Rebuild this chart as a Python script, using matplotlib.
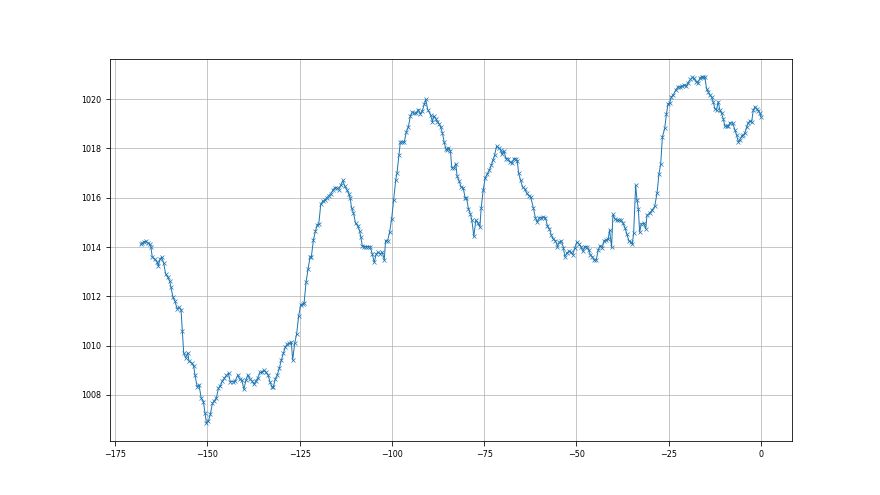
#!/usr/bin/env python3
"""Pressure trace over the last week, hours relative to now."""

import matplotlib

matplotlib.use('Agg')
from matplotlib import pyplot as plt  # noqa: E402

# hours before now
hours = [
    -168.00, -167.60, -167.20, -166.76, -166.22, -165.67, -165.31, -164.95, -164.22, -163.68,
    -163.32, -162.87, -162.41, -161.87, -161.33, -160.78, -160.24, -159.88, -159.33, -158.79,
    -158.25, -157.70, -157.16, -156.80, -156.43, -155.89, -155.35, -154.98, -154.26, -153.72,
    -153.35, -152.81, -152.27, -151.72, -151.09, -150.64, -150.27, -149.73, -149.19, -148.64,
    -148.10, -147.56, -147.01, -146.47, -145.93, -145.38, -144.84,
    -144.29, -143.84, -143.20, -142.48, -141.75, -141.30, -140.67, -140.12, -139.58, -139.04,
    -138.49, -137.95, -137.41, -136.86, -136.32, -135.78, -135.23, -134.69, -134.15, -133.60,
    -133.06, -132.51, -132.15, -131.61, -131.07, -130.52, -129.98, -129.43, -128.89, -128.35,
    -127.80, -127.26, -126.90, -126.36, -125.81, -125.27, -124.73, -124.18, -123.82, -123.28,
    -122.73, -122.19, -121.83, -121.28, -120.74, -120.20, -119.83, -119.29, -118.75, -118.20,
    -117.66,
    -117.12, -116.58, -116.03, -115.49, -114.95, -114.40, -113.86, -113.32, -112.77, -112.23,
    -111.69, -111.32, -110.96, -110.42, -109.87, -109.33, -108.79, -108.42, -108.06, -107.52,
    -106.97, -106.43, -105.89, -105.34, -104.80, -104.26, -103.71, -103.17, -102.63, -102.08,
    -101.72, -101.18, -100.63, -100.09, -99.55, -99.00, -98.64, -98.10, -97.74, -97.19,
    -96.65, -96.11, -95.56, -95.02, -94.48, -93.93, -93.39, -92.85, -92.30, -91.76,
    -91.21, -90.85, -90.31,
    -89.50, -89.04, -88.68, -88.14, -87.69, -87.23, -86.78, -86.33, -85.87, -85.42,
    -84.97, -84.70, -84.15, -83.79, -83.25, -82.70, -82.34, -81.80, -81.25, -80.71,
    -80.17, -79.81, -79.26, -78.72, -78.36, -77.81, -77.27, -76.73, -76.18, -75.82,
    -75.28, -74.73, -74.19, -73.65, -73.10, -72.56, -72.20, -71.65, -71.11, -70.57,
    -70.20, -69.66, -69.12, -68.57, -68.03, -67.49, -66.94, -66.40, -66.04, -65.68,
    -65.13, -64.59, -64.05, -63.50, -62.96, -62.42,
    -61.68, -61.14, -60.60, -60.05, -59.51, -58.97, -58.42, -57.88, -57.34, -56.79,
    -56.25, -55.70, -55.16, -54.62, -54.07, -53.53, -53.17, -52.63, -52.08, -51.54,
    -51.00, -50.45, -49.91, -49.37, -48.82, -48.28, -47.73, -47.19, -46.65, -46.28,
    -45.74, -45.20, -44.65, -44.11, -43.57, -43.02, -42.48, -41.94, -41.39, -41.03,
    -40.49, -40.12, -39.58, -39.04, -38.49, -37.95, -37.41, -36.86, -36.32, -35.78,
    -35.23, -34.87, -34.51, -33.97, -33.60, -33.24,
    -32.88, -32.43, -31.79, -31.25, -30.89, -30.16, -29.44, -28.80, -28.17, -27.63,
    -27.17, -26.72, -26.09, -25.63, -25.18, -24.73, -24.27, -23.82, -23.10, -22.46,
    -22.01, -21.29, -20.83, -20.20, -19.75, -19.11, -18.57, -18.21, -17.48, -17.03,
    -16.58, -16.12, -15.67, -15.22, -14.76, -14.31, -13.86, -13.40, -12.95, -12.50,
    -12.05, -11.59, -11.14, -10.69, -10.23, -9.78, -9.33, -8.88, -8.42, -7.70,
    -7.06, -6.61, -6.16, -5.71, -5.25, -4.80, -4.35, -3.89, -3.44, -2.99,
    -2.54, -2.08, -1.63, -1.18, -0.72, -0.27, 0.00,
]

# pressure [hPa]
pressure = [
    1014.11, 1014.16, 1014.22, 1014.24, 1014.16, 1014.11, 1014.00, 1013.59, 1013.50, 1013.40,
    1013.23, 1013.50, 1013.59, 1013.36, 1012.91, 1012.78, 1012.62, 1012.37, 1011.96, 1011.80,
    1011.50, 1011.55, 1011.46, 1010.58, 1009.70, 1009.50, 1009.70, 1009.36, 1009.30, 1009.16,
    1008.79, 1008.34, 1008.41, 1007.89, 1007.73, 1007.26, 1006.85, 1006.94, 1007.22, 1007.66,
    1007.76, 1007.89, 1008.27, 1008.38, 1008.57, 1008.68, 1008.79,
    1008.88, 1008.54, 1008.54, 1008.57, 1008.81, 1008.64, 1008.59, 1008.23, 1008.59, 1008.81,
    1008.64, 1008.57, 1008.43, 1008.57, 1008.70, 1008.91, 1008.91, 1009.00, 1008.91, 1008.81,
    1008.54, 1008.32, 1008.32, 1008.64, 1008.81, 1009.08, 1009.41, 1009.68, 1009.95, 1010.06,
    1010.09, 1010.13, 1009.41, 1010.09, 1010.49, 1011.21, 1011.66, 1011.69, 1011.71, 1012.57,
    1013.11, 1013.59, 1013.61, 1014.29, 1014.64, 1014.91, 1014.94, 1015.73, 1015.86, 1015.89,
    1016.00,
    1016.09, 1016.16, 1016.30, 1016.41, 1016.41, 1016.33, 1016.50, 1016.70, 1016.46, 1016.33,
    1016.16, 1016.00, 1015.59, 1015.38, 1014.97, 1014.87, 1014.67, 1014.40, 1014.06, 1014.02,
    1014.02, 1014.02, 1014.02, 1013.72, 1013.38, 1013.72, 1013.79, 1013.72, 1013.79, 1013.48,
    1014.26, 1014.26, 1014.60, 1015.14, 1015.89, 1016.70, 1017.00, 1017.72, 1018.26, 1018.26,
    1018.26, 1018.67, 1018.87, 1019.31, 1019.48, 1019.42, 1019.44, 1019.58, 1019.39, 1019.53,
    1019.80, 1019.99, 1019.58,
    1019.35, 1019.08, 1019.31, 1019.21, 1019.08, 1019.01, 1018.85, 1018.63, 1018.26, 1017.99,
    1017.92, 1018.03, 1017.90, 1017.22, 1017.22, 1017.38, 1016.87, 1016.68, 1016.43, 1016.41,
    1016.00, 1016.00, 1015.55, 1015.32, 1015.10, 1014.43, 1015.10, 1014.97, 1014.81, 1015.59,
    1016.30, 1016.81, 1016.95, 1017.11, 1017.31, 1017.55, 1017.72, 1018.09, 1018.03, 1017.95,
    1017.76, 1017.90, 1017.59, 1017.59, 1017.45, 1017.41, 1017.59, 1017.59, 1017.49, 1017.00,
    1016.70, 1016.43, 1016.37, 1016.19, 1016.09, 1016.03,
    1015.59, 1015.19, 1015.01, 1015.19, 1015.19, 1015.21, 1015.19, 1014.87, 1014.74, 1014.47,
    1014.32, 1014.26, 1014.02, 1014.20, 1014.24, 1013.97, 1013.61, 1013.75, 1013.83, 1013.79,
    1013.69, 1013.97, 1014.20, 1014.13, 1014.02, 1013.83, 1014.02, 1014.02, 1013.86, 1013.69,
    1013.61, 1013.47, 1013.47, 1013.88, 1014.06, 1013.97, 1014.26, 1014.29, 1014.33, 1014.70,
    1013.99, 1015.32, 1015.14, 1015.10, 1015.08, 1015.10, 1014.97, 1014.78, 1014.51, 1014.24,
    1014.20, 1014.13, 1014.56, 1016.50, 1015.91, 1015.55,
    1014.60, 1014.94, 1014.97, 1014.74, 1015.28, 1015.38, 1015.51, 1015.65, 1016.19, 1016.98,
    1017.38, 1018.47, 1018.81, 1019.39, 1019.82, 1019.85, 1020.10, 1020.16, 1020.37, 1020.50,
    1020.50, 1020.53, 1020.57, 1020.53, 1020.67, 1020.80, 1020.88, 1020.84, 1020.71, 1020.67,
    1020.84, 1020.91, 1020.88, 1020.91, 1020.43, 1020.30, 1020.16, 1020.10, 1019.89, 1019.62,
    1019.58, 1019.89, 1019.55, 1019.42, 1019.21, 1018.90, 1018.90, 1018.90, 1019.04, 1019.04,
    1018.74, 1018.54, 1018.27, 1018.36, 1018.50, 1018.54, 1018.63, 1018.87, 1019.04, 1019.12,
    1019.08, 1019.55, 1019.69, 1019.62, 1019.53, 1019.42, 1019.28,
]


def main() -> None:
    plt.rcParams.update({
        'font.family': 'DejaVu Sans',
        'font.size': 8,
        'xtick.major.size': 4.5,
        'ytick.major.size': 4.5,
        'xtick.major.pad': 4.5,
        'ytick.major.pad': 4.5,
    })
    figure, axis = plt.subplots(figsize=(880 / 72, 495 / 72), dpi=72)
    axis.plot(
        hours,
        pressure,
        color='#1f77b4',
        linewidth=1.0,
        marker='x',
        markersize=4.5,
        markeredgewidth=0.7,
    )
    axis.grid(True, color='#b0b0b0', linewidth=0.7)
    figure.savefig('out.png', dpi=72)
    plt.close(figure)


if __name__ == '__main__':
    main()
